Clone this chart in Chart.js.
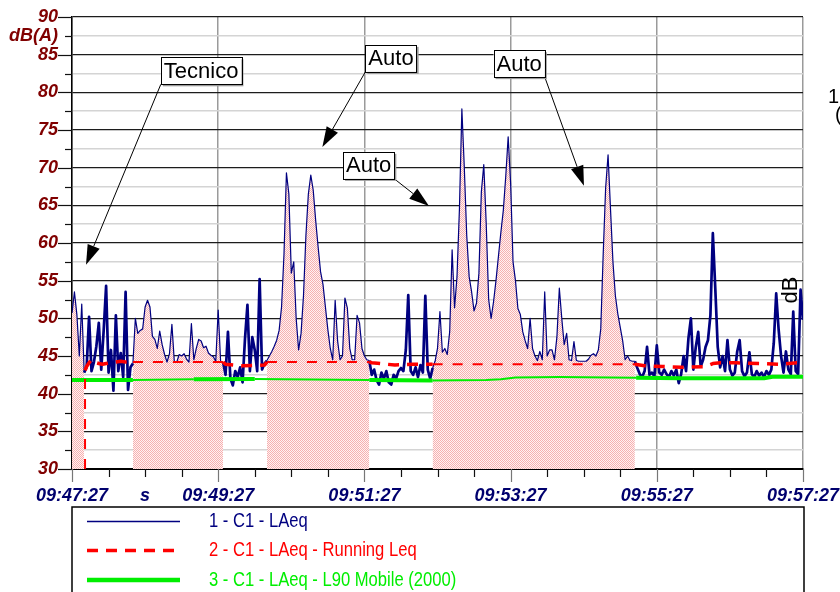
<!DOCTYPE html>
<html>
<head>
<meta charset="utf-8">
<script src="https://cdn.jsdelivr.net/npm/chart.js@4.4.1/dist/chart.umd.min.js"></script>
<style>
  html, body { margin: 0; padding: 0; background: #fff; }
  #wrap { width: 840px; height: 592px; position: relative; }
</style>
</head>
<body>
<div id="wrap"><canvas id="c" width="840" height="592"></canvas></div>
<script>
// ---- Data ---------------------------------------------------------------
// LAeq samples every 2 s, time in seconds from 09:47:27.
const sampleStep = 2;

const laeqEventA = [50.7, 53.5, 50.5, 45.0, 51.9, 42.8];                       // 0-10
const laeqQuiet1 = [43.5, 50.2, 43.0, 44.2, 46.3, 49.4, 43.2, 48.4, 54.3, 42.8, // 12-30
                    45.8, 40.4, 50.4, 43.0, 45.4, 42.2, 53.5, 40.5, 43.5];       // 32-48
const laeqEventB = [44.0, 50.0, 48.0, 48.4, 48.6, 51.5, 52.4, 51.5, 47.6, 47.2, // 50-68
                    46.0, 48.3, 46.5, 45.2, 44.2, 45.3, 49.2, 44.2, 44.2, 45.2, // 70-88
                    45.0, 45.3, 44.6, 44.2, 49.3, 44.5, 46.0, 47.2, 47.0, 46.1, // 90-108
                    46.3, 45.4, 45.1, 44.9, 44.3, 51.1, 44.2, 44.2];             // 110-124
const laeqQuiet2 = [42.5, 48.2, 42.0, 41.1, 43.0, 42.2, 43.5, 41.5, 47.3, 51.8, // 126-144
                    43.0, 47.5, 45.8, 43.0, 55.2, 43.2, 44.0];                   // 146-158
const laeqEventC = [44.4, 45.0, 45.6, 46.3, 47.1, 48.4, 51.5, 58.5, 69.3, 66.5, // 160-178
                    56.0, 57.5, 50.0, 45.8, 48.0, 53.0, 61.0, 66.5, 69.0, 67.0, // 180-198
                    63.0, 59.5, 56.2, 54.5, 51.5, 48.5, 46.0, 44.5, 52.4, 47.0, // 200-218
                    44.5, 45.0, 52.7, 51.4, 46.0, 44.5, 44.5, 50.4, 49.4, 46.0, // 220-238
                    45.0, 44.5, 44.4];                                           // 240-244
const laeqQuiet3 = [42.5, 43.2, 41.8, 41.2, 42.8, 42.0, 43.0, 41.5, 41.2, 42.5, // 246-264
                    42.0, 43.0, 43.4, 43.0, 45.8, 53.1, 43.0, 42.5, 43.5, 42.2, // 266-284
                    43.8, 42.8, 53.0, 43.2, 42.0];                               // 286-294
const laeqEventD = [43.4, 44.3, 46.0, 50.9, 45.5, 46.0, 45.2, 48.2, 59.1, 51.4, // 296-314
                    55.5, 64.5, 77.8, 70.0, 61.0, 55.5, 53.5, 51.0, 52.0, 56.0, // 316-334
                    66.8, 70.4, 62.5, 52.5, 50.0, 52.2, 55.0, 58.2, 61.4, 64.3, // 336-354
                    68.8, 74.1, 68.0, 57.5, 55.0, 51.3, 50.5, 48.2, 47.0, 46.0, // 356-374
                    50.0, 46.0, 45.0, 44.4, 45.6, 44.5, 53.5, 45.0, 45.8, 45.8, // 376-394
                    44.5, 47.5, 54.0, 50.0, 46.5, 48.0, 44.5, 44.4, 46.9, 44.4, // 396-414
                    44.3, 44.3, 44.3, 44.3, 44.6, 45.1, 45.3, 45.0, 45.8, 48.6, // 416-434
                    58.5, 67.3, 71.7, 64.5, 57.5, 53.0, 50.6, 48.8, 47.0, 44.5, // 436-454
                    45.0, 44.4, 44.3, 44.3];                                     // 456-462
const laeqQuiet4 = [43.4, 42.6, 42.2, 43.0, 46.2, 42.5, 42.8, 42.3, 46.4, 42.8, // 464-482
                    42.5, 43.2, 42.6, 42.2, 43.0, 42.4, 43.2, 41.4, 42.6, 45.0, // 484-502
                    43.0, 47.4, 50.0, 43.2, 46.2, 48.2, 43.6, 44.5, 46.2, 47.1, // 504-522
                    50.4, 61.3, 54.0, 46.2, 43.5, 45.0, 43.0, 47.1, 43.2, 42.4, // 524-542
                    42.8, 45.6, 47.1, 43.0, 42.3, 42.8, 45.5, 42.6, 42.2, 43.0, // 544-562
                    42.4, 42.8, 42.2, 43.0, 42.5, 43.2, 46.7, 53.3, 48.5, 45.0, // 564-582
                    42.8, 45.6, 43.2, 42.6, 50.9, 43.0, 42.6, 53.8, 49.8];       // 584-600
const laeqSegmentStarts = [0, 12, 50, 126, 160, 246, 296, 464];
const laeqSegments = [laeqEventA, laeqQuiet1, laeqEventB, laeqQuiet2,
                      laeqEventC, laeqQuiet3, laeqEventD, laeqQuiet4];

// Marked (event) intervals, seconds
const eventSpans = [[0, 10.8], [50, 124], [160, 244], [296, 462]];

// Running Leq
const leqTimes  = [10.7, 10.7, 12, 14, 16, 18, 20, 22, 25, 28, 32, 36, 40, 44, 50, 124, 126, 140, 158,
                   160, 244, 246, 265, 280, 296, 462, 470, 485, 500, 520, 526, 532, 545, 565, 580, 595, 600];
const leqValues = [30, 43.1, 43.6, 44.1, 44.5, 44.3, 44.1, 44.0, 43.9, 44.0, 44.1, 44.2, 44.3, 44.2, 44.2, 44.2, 43.9, 43.7, 43.8,
                   44.2, 44.2, 44.1, 43.8, 43.9, 43.9, 43.9, 43.7, 43.6, 43.5, 43.6, 44.0, 44.1, 44.1, 44.0, 43.9, 44.1, 44.1];

// L90 mobile
const l90Times  = [0, 50, 100, 150, 244, 296, 340, 352, 364, 400, 463, 500, 568, 575, 600];
const l90Values = [41.8, 41.8, 41.9, 41.95, 41.8, 41.75, 41.8, 41.9, 42.15, 42.2, 42.1, 42.05, 42.05, 42.25, 42.25];

// Axis labels
const timeLabels = ['09:47:27', '09:49:27', '09:51:27', '09:53:27', '09:55:27', '09:57:27'];
const unitTickSeconds = 60;

// Callout notes: box top-left and arrow tip in (seconds, dB)
const noteTexts = ['Tecnico', 'Auto', 'Auto', 'Auto'];
const noteBoxAt = [[72.9, 84.65], [240.8, 86.3], [222.5, 72.1], [346, 85.6]];
const noteTipAt = [[11.5, 57.1], [205.5, 72.75], [293, 64.9], [420.2, 67.6]];
const noteFrom  = ['bl', 'bl', 'br', 'br'];

// ---- Build series ------------------------------------------------------
const inEvent = t => eventSpans.some(([a, b]) => t >= a && t <= b);
const laeqPoints = [];
laeqSegments.forEach((seg, k) => {
  seg.forEach((v, i) => laeqPoints.push({ x: laeqSegmentStarts[k] + i * sampleStep, y: v }));
});
const eventFillPoints = laeqPoints.map(p => ({ x: p.x, y: inEvent(p.x) ? p.y : null }));
const leqPoints = leqTimes.map((t, i) => ({ x: t, y: leqValues[i] }));
const l90Points = l90Times.map((t, i) => ({ x: t, y: l90Values[i] }));
const midInEvent = ctx => inEvent((ctx.p0.parsed.x + ctx.p1.parsed.x) / 2);

const canvas = document.getElementById('c');
const ctx2d = canvas.getContext('2d');

// fine pink dot pattern for marked intervals
const tile = document.createElement('canvas');
tile.width = 2; tile.height = 2;
const tg = tile.getContext('2d');
tg.fillStyle = 'rgb(255,242,242)'; tg.fillRect(0, 0, 2, 2);
tg.fillStyle = 'rgb(246,176,176)'; tg.fillRect(0, 0, 1, 1); tg.fillRect(1, 1, 1, 1);
const eventPattern = ctx2d.createPattern(tile, 'repeat');

const NAVY = '#000080', RED = '#ff0000', GREEN = '#00ee00';
const tickFont = { family: '"Liberation Sans", Arial, sans-serif', size: 18, style: 'italic', weight: 'bold' };

// ---- Decorations: tick marks, notes, legend box ------------------------
function drawArrow(ctx, x0, y0, x1, y1) {
  const ang = Math.atan2(y1 - y0, x1 - x0), len = 20, half = 6.5;
  const bx = x1 - len * Math.cos(ang), by = y1 - len * Math.sin(ang);
  ctx.beginPath(); ctx.moveTo(x0, y0); ctx.lineTo(bx, by); ctx.stroke();
  ctx.beginPath();
  ctx.moveTo(x1, y1);
  ctx.lineTo(bx + half * Math.sin(ang), by - half * Math.cos(ang));
  ctx.lineTo(bx - half * Math.sin(ang), by + half * Math.cos(ang));
  ctx.closePath(); ctx.fill();
}

const decor = {
  id: 'decor',
  afterDraw(chart) {
    const { ctx, chartArea: a } = chart;
    const xs = chart.scales.x, ys = chart.scales.y;
    ctx.save();
    // y tick marks
    ctx.strokeStyle = '#111';
    ctx.lineWidth = 1.2;
    ys.ticks.forEach(t => {
      const py = Math.round(ys.getPixelForValue(t.value)) + 0.5;
      const major = t.value % 5 === 0;
      ctx.beginPath(); ctx.moveTo(a.left - (major ? 14 : 7), py); ctx.lineTo(a.left, py); ctx.stroke();
    });
    // x tick marks
    xs.ticks.forEach(t => {
      const px = Math.round(xs.getPixelForValue(t.value)) + 0.5;
      const major = t.value % 120 === 0;
      ctx.strokeStyle = major ? '#777' : '#111';
      ctx.beginPath(); ctx.moveTo(px, a.bottom); ctx.lineTo(px, a.bottom + (major ? 13 : 8)); ctx.stroke();
    });

    // unit label on the right
    ctx.fillStyle = '#000';
    ctx.font = '22px "Liberation Sans", Arial, sans-serif';
    ctx.save();
    ctx.translate(797, 290);
    ctx.rotate(-Math.PI / 2);
    ctx.textAlign = 'center'; ctx.textBaseline = 'alphabetic';
    ctx.fillText('dB', 0, 0);
    ctx.restore();
    ctx.font = '20px "Liberation Sans", Arial, sans-serif';
    ctx.textAlign = 'left'; ctx.textBaseline = 'alphabetic';
    ctx.fillText('1', 828, 103);
    ctx.fillText('(', 835, 121);

    // callout notes
    ctx.font = '22px "Liberation Sans", Arial, sans-serif';
    noteTexts.forEach((txt, i) => {
      const bx = xs.getPixelForValue(noteBoxAt[i][0]);
      const by = ys.getPixelForValue(noteBoxAt[i][1]);
      const w = ctx.measureText(txt).width + 6, h = 27;
      const tx = xs.getPixelForValue(noteTipAt[i][0]);
      const ty = ys.getPixelForValue(noteTipAt[i][1]);
      const sx = noteFrom[i] === 'bl' ? bx : bx + w;
      ctx.strokeStyle = '#000'; ctx.fillStyle = '#000'; ctx.lineWidth = 1;
      drawArrow(ctx, sx, by + h, tx, ty);
      ctx.fillStyle = '#9a9a9a';
      ctx.fillRect(bx + 2, by + 2, w, h);
      ctx.fillStyle = '#fff';
      ctx.fillRect(bx, by, w, h);
      ctx.strokeRect(Math.round(bx) + 0.5, Math.round(by) + 0.5, Math.round(w), h);
      ctx.fillStyle = '#000';
      ctx.textAlign = 'center'; ctx.textBaseline = 'middle';
      ctx.fillText(txt, bx + w / 2, by + h / 2 + 1);
    });

    // legend box
    const L = { left: 72, top: 507, right: 804 };
    ctx.strokeStyle = '#000'; ctx.lineWidth = 1.5;
    ctx.beginPath();
    ctx.moveTo(L.left, 600); ctx.lineTo(L.left, L.top); ctx.lineTo(L.right, L.top); ctx.lineTo(L.right, 600);
    ctx.stroke();
    const rows = [521.5, 550.5, 580];
    const entries = chart.data.datasets.filter(d => d.label);
    ctx.font = '20px "Liberation Sans", Arial, sans-serif';
    ctx.textAlign = 'left'; ctx.textBaseline = 'middle';
    entries.forEach((d, i) => {
      ctx.strokeStyle = d.borderColor;
      ctx.lineWidth = d.legendWidth;
      ctx.setLineDash(d.borderDash || []);
      ctx.beginPath(); ctx.moveTo(87, rows[i]); ctx.lineTo(180, rows[i]); ctx.stroke();
      ctx.setLineDash([]);
      ctx.fillStyle = d.borderColor;
      // condensed lettering
      ctx.save();
      ctx.translate(209, rows[i]);
      ctx.scale(0.83, 1);
      ctx.fillText(d.label, 0, 0);
      ctx.restore();
    });
    ctx.restore();
  }
};

// ---- Chart ---------------------------------------------------------------
new Chart(ctx2d, {
  type: 'line',
  data: {
    datasets: [
      {
        label: '', data: eventFillPoints, parsing: false, spanGaps: false,
        borderWidth: 0, pointRadius: 0, fill: 'start', backgroundColor: eventPattern, order: 4
      },
      {
        label: '1 - C1 - LAeq', data: laeqPoints, parsing: false,
        borderColor: NAVY, borderWidth: 2.7, legendWidth: 1.5, pointRadius: 0, fill: false, order: 3,
        segment: { borderWidth: c => midInEvent(c) ? 1.2 : 2.7 }
      },
      {
        label: '2 - C1 - LAeq - Running Leq', data: leqPoints, parsing: false,
        borderColor: RED, borderWidth: 3.5, legendWidth: 3.5, borderDash: [11, 8], pointRadius: 0, fill: false, order: 1,
        segment: {
          borderWidth: c => midInEvent(c) ? 2 : 3.5,
          borderDash: c => midInEvent(c) ? [10, 10] : [11, 8]
        }
      },
      {
        label: '3 - C1 - LAeq - L90 Mobile (2000)', data: l90Points, parsing: false,
        borderColor: GREEN, borderWidth: 4, legendWidth: 4.5, pointRadius: 0, fill: false, order: 2,
        segment: { borderWidth: c => midInEvent(c) ? 2 : 4 }
      }
    ]
  },
  options: {
    responsive: false,
    animation: false,
    devicePixelRatio: 1,
    layout: { padding: { left: 0, right: 37, top: 17, bottom: 83 } },
    plugins: { legend: { display: false }, tooltip: { enabled: false } },
    elements: { point: { radius: 0 }, line: { tension: 0, borderJoinStyle: 'round' } },
    scales: {
      x: {
        type: 'linear', min: 0, max: 600,
        afterFit: s => { s.height = 40; s.paddingLeft = 0; s.paddingRight = 0; },
        border: { display: true, color: '#000', width: 2 },
        grid: {
          drawTicks: false,
          color: c => (c.tick && c.tick.value % 120 === 0) ? '#9a9a9a' : 'rgba(0,0,0,0)',
          lineWidth: 1.5
        },
        ticks: {
          stepSize: 30, autoSkip: false, maxRotation: 0, minRotation: 0, padding: 16,
          color: '#00006e', font: tickFont,
          callback: v => v % 120 === 0 ? timeLabels[v / 120] : (v === unitTickSeconds ? 's' : '')
        }
      },
      y: {
        min: 30, max: 90,
        afterFit: s => { s.width = 72; s.paddingTop = 0; s.paddingBottom = 0; },
        border: { display: true, color: '#000', width: 1.5 },
        grid: {
          drawTicks: false,
          color: c => (c.tick && c.tick.value % 5 === 0) ? '#1c1c1c' : '#d4d4d4',
          lineWidth: c => (c.tick && c.tick.value % 5 === 0) ? 1.2 : 1.6
        },
        ticks: {
          stepSize: 2.5, autoSkip: false, padding: 14,
          color: '#800000', font: tickFont,
          callback: v => v % 5 === 0 ? String(v) : (v === 87.5 ? 'dB(A)' : '')
        }
      }
    }
  },
  plugins: [decor]
});
</script>
</body>
</html>
